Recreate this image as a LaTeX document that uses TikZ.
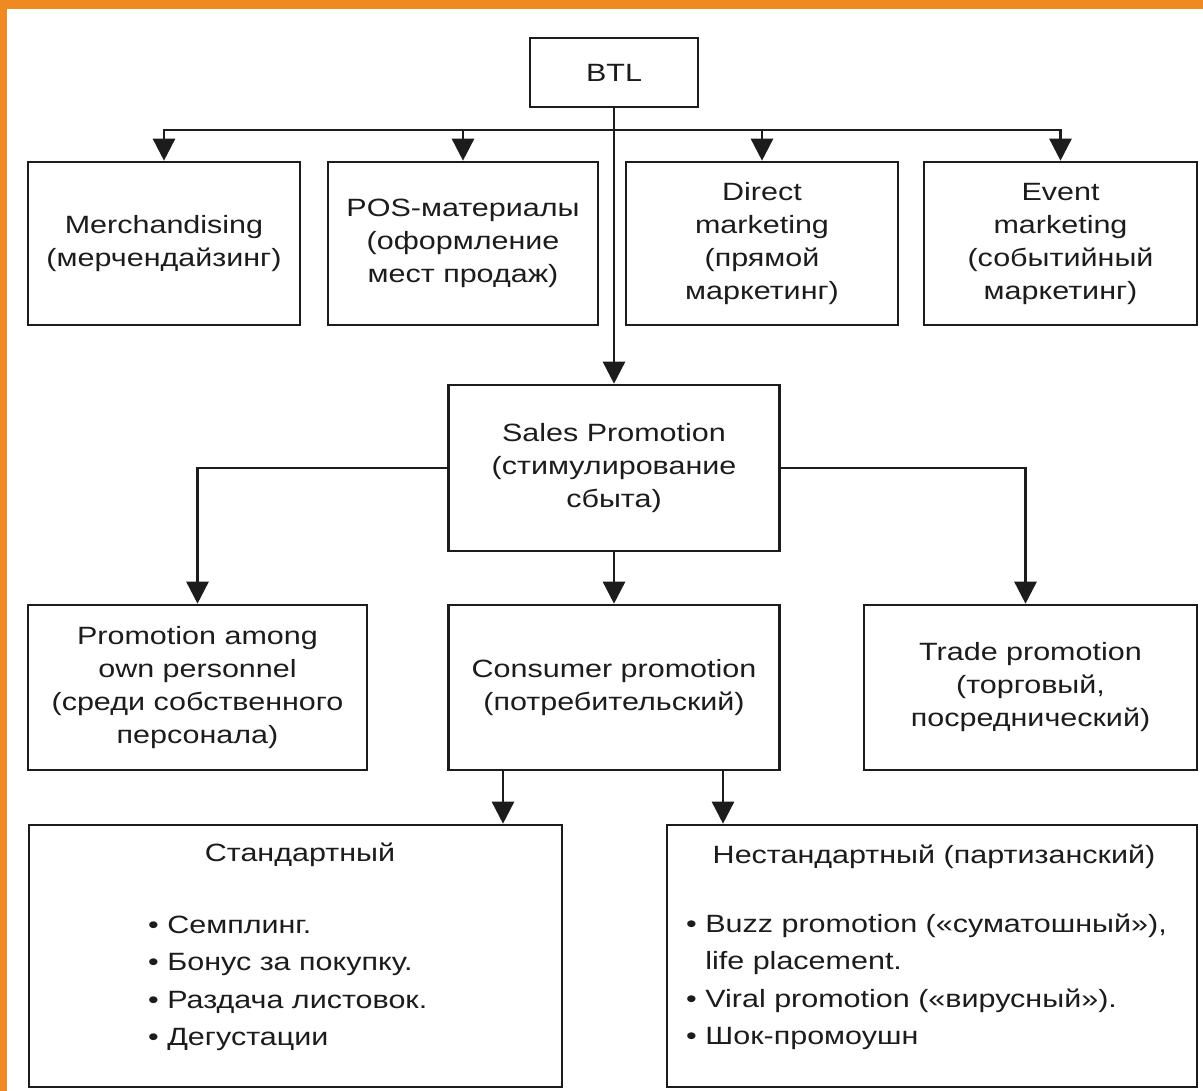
\documentclass[tikz,border=0pt]{standalone}
\usepackage{fontspec}
\setmainfont{Liberation Sans}[FakeStretch=1.22]
\usetikzlibrary{arrows.meta}
\definecolor{frameorange}{HTML}{EF8A22}
\definecolor{ink}{HTML}{1C1C1C}
\tikzset{
  box/.style={draw=ink, line width=2.6pt, inner sep=0pt, align=center, text=ink,
    font=\fontsize{25}{33}\selectfont},
  label/.style={inner sep=0pt, text=ink, font=\fontsize{25}{37.5}\selectfont},
  arr/.style={draw=ink, line width=2.6pt, -{Triangle[width=22pt,length=22pt]}},
  plain/.style={draw=ink, line width=2.6pt}
}
\begin{document}
\begin{tikzpicture}[x=1pt,y=-1pt]
\useasboundingbox (0,0) rectangle (1203,1091);
\fill[white] (0,0) rectangle (1203,1091);
\fill[frameorange] (0,0) rectangle (1203,9);
\fill[frameorange] (0,0) rectangle (7,1091);

% nodes
\node[box, minimum width=168pt, minimum height=69pt] (btl) at (614,72.5) {BTL};

\node[box, minimum width=272pt, minimum height=163pt] (merch) at (164,243.5)
  {Merchandising\\(мерчендайзинг)};
\node[box, minimum width=270pt, minimum height=163pt] (pos) at (463,243.5)
  {POS-материалы\\(оформление\\мест продаж)};
\node[box, minimum width=272pt, minimum height=163pt] (direct) at (762,243.5)
  {Direct\\marketing\\(прямой\\маркетинг)};
\node[box, minimum width=273pt, minimum height=163pt] (event) at (1060.5,243.5)
  {Event\\marketing\\(событийный\\маркетинг)};

\node[box, minimum width=331pt, minimum height=166pt] (sp) at (614,468)
  {Sales Promotion\\(стимулирование\\сбыта)};

\node[box, minimum width=339pt, minimum height=165pt] (own) at (197.5,687.5)
  {Promotion among\\own personnel\\(среди собственного\\персонала)};
\node[box, minimum width=331pt, minimum height=165pt] (cp) at (614,687.5)
  {Consumer promotion\\(потребительский)};
\node[box, minimum width=333pt, minimum height=165pt] (tp) at (1030.5,687.5)
  {Trade promotion\\(торговый,\\посреднический)};

\node[box, minimum width=533pt, minimum height=262pt] (std) at (295.5,956) {};
\node[box, minimum width=530pt, minimum height=262pt] (nst) at (932,956) {};

\node[label] (stdtitle) at (300,855) {Стандартный};
\node[label, align=left, anchor=west] (stdlist) at (148,983.5)
  {• Семплинг.\\• Бонус за покупку.\\• Раздача листовок.\\• Дегустации};

\node[label] (nsttitle) at (934,857) {Нестандартный (партизанский)};
\node[label, align=left, anchor=west] (nstlist) at (686,982)
  {• Buzz promotion («суматошный»),\\\hphantom{• }life placement.\\• Viral promotion («вирусный»).\\• Шок-промоушн};

% connectors
\coordinate (bus) at (614,130);
\draw[arr] (btl.south) -- (sp.north);
\draw[arr] (bus) -| (merch.north);
\draw[arr] (bus) -| (pos.north);
\draw[arr] (bus) -| (direct.north);
\draw[arr] (bus) -| (event.north);

\draw[arr] (sp.west) -| (own.north);
\draw[arr] (sp.east) -| ([xshift=-5pt]tp.north);
\draw[arr] (sp.south) -- (cp.north);

\draw[arr] ([xshift=-111pt]cp.south) -- ([xshift=-111pt]cp.south |- std.north);
\draw[arr] ([xshift=109pt]cp.south) -- ([xshift=109pt]cp.south |- nst.north);
\end{tikzpicture}
\end{document}
